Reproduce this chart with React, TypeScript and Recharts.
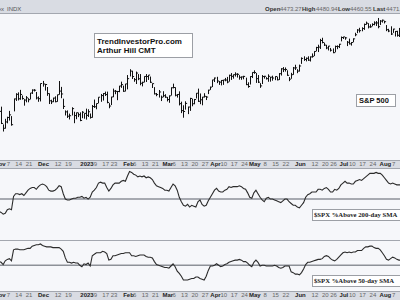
import { ComposedChart, Bar, Line, XAxis, YAxis, ReferenceLine } from "recharts";

// trading days from 1 Nov 2022 to 11 Aug 2023, index 0..194
const HIGH = [
  3911, 3894, 3751, 3796, 3813, 3860, 3818, 3959, 4002, 4009,
  4029, 3984, 3954, 3979, 3962, 4004, 4033, 4035, 4012, 3976,
  4080, 4101, 4077, 4052, 4001, 3950, 3966, 3977, 3990, 4100,
  4053, 3958, 3864, 3864, 3838, 3889, 3853, 3846, 3846, 3848,
  3858, 3840, 3878, 3873, 3839, 3907, 3951, 3919, 3970, 3996,
  4003, 4015, 4015, 3922, 3973, 4039, 4028, 4020, 4061, 4095,
  4063, 4077, 4148, 4195, 4183, 4124, 4176, 4156, 4156, 4094,
  4138, 4156, 4148, 4136, 4081, 4051, 4004, 4028, 3983, 4018,
  3994, 3972, 3984, 4049, 4079, 4050, 3995, 4017, 3934, 3905,
  3937, 3894, 3965, 3958, 3956, 4003, 4039, 4000, 3972, 4002,
  3979, 4030, 4055, 4110, 4128, 4134, 4100, 4108, 4109, 4125,
  4133, 4151, 4164, 4152, 4170, 4163, 4147, 4137, 4142, 4127,
  4090, 4139, 4170, 4186, 4164, 4148, 4083, 4148, 4142, 4131,
  4154, 4133, 4143, 4138, 4135, 4164, 4203, 4212, 4209, 4186,
  4132, 4166, 4213, 4231, 4195, 4232, 4290, 4299, 4289, 4299,
  4298, 4322, 4340, 4375, 4392, 4439, 4448, 4408, 4391, 4382,
  4366, 4362, 4385, 4387, 4399, 4458, 4456, 4454, 4422, 4441,
  4413, 4443, 4488, 4517, 4528, 4532, 4562, 4578, 4565, 4556,
  4564, 4580, 4582, 4607, 4590, 4594, 4585, 4550, 4520, 4540,
  4520, 4502, 4504, 4527, 4476,
];
const LOW = [
  3843, 3758, 3698, 3721, 3764, 3786, 3745, 3860, 3944, 3948,
  3953, 3955, 3906, 3933, 3933, 3956, 4000, 4020, 3956, 3937,
  3940, 4059, 4027, 3985, 3919, 3919, 3934, 3933, 3937, 3994,
  3966, 3879, 3827, 3807, 3795, 3827, 3765, 3797, 3814, 3781,
  3805, 3801, 3794, 3815, 3802, 3809, 3888, 3877, 3925, 3937,
  3947, 3984, 3925, 3885, 3911, 3974, 3998, 3950, 4014, 4049,
  4017, 4020, 4037, 4141, 4120, 4098, 4080, 4111, 4070, 4061,
  4093, 4096, 4113, 4089, 4048, 3996, 3982, 3971, 3943, 3974,
  3969, 3940, 3929, 3987, 4045, 3981, 3971, 3908, 3846, 3809,
  3874, 3838, 3864, 3901, 3917, 3964, 3936, 3918, 3909, 3971,
  3951, 3999, 4033, 4056, 4096, 4087, 4073, 4069, 4073, 4102,
  4086, 4099, 4113, 4123, 4140, 4132, 4115, 4114, 4118, 4071,
  4050, 4076, 4128, 4162, 4089, 4088, 4049, 4080, 4123, 4116,
  4098, 4099, 4107, 4111, 4109, 4113, 4148, 4176, 4180, 4146,
  4103, 4122, 4154, 4193, 4167, 4180, 4242, 4266, 4262, 4266,
  4261, 4292, 4305, 4343, 4337, 4362, 4407, 4386, 4360, 4350,
  4341, 4328, 4335, 4360, 4369, 4423, 4442, 4436, 4385, 4398,
  4389, 4416, 4464, 4489, 4494, 4504, 4515, 4557, 4527, 4532,
  4544, 4552, 4547, 4528, 4555, 4574, 4567, 4505, 4497, 4474,
  4491, 4462, 4461, 4458, 4444,
];
const CLOSE = [
  3856, 3759, 3720, 3771, 3807, 3828, 3749, 3956, 3993, 3957,
  3992, 3959, 3947, 3965, 3950, 4004, 4027, 4026, 3964, 3958,
  4080, 4076, 4072, 3999, 3941, 3933, 3963, 3934, 3990, 4019,
  3996, 3896, 3852, 3817, 3821, 3878, 3822, 3845, 3829, 3783,
  3849, 3840, 3824, 3853, 3808, 3895, 3893, 3919, 3970, 3983,
  3999, 3991, 3928, 3899, 3972, 4019, 4017, 4016, 4060, 4071,
  4018, 4077, 4119, 4180, 4136, 4111, 4164, 4118, 4082, 4090,
  4137, 4136, 4148, 4090, 4079, 3997, 3991, 4012, 3970, 3982,
  3970, 3951, 3981, 4046, 4048, 3986, 3992, 3918, 3862, 3855,
  3920, 3891, 3960, 3917, 3951, 4002, 3937, 3949, 3971, 3977,
  3971, 4027, 4051, 4109, 4124, 4100, 4091, 4105, 4109, 4108,
  4092, 4146, 4138, 4151, 4155, 4154, 4130, 4133, 4137, 4071,
  4056, 4136, 4169, 4168, 4119, 4091, 4061, 4136, 4138, 4119,
  4138, 4131, 4124, 4136, 4110, 4159, 4198, 4192, 4193, 4146,
  4115, 4151, 4205, 4206, 4180, 4221, 4282, 4273, 4283, 4268,
  4294, 4299, 4338, 4369, 4373, 4426, 4410, 4389, 4366, 4381,
  4348, 4328, 4378, 4377, 4396, 4450, 4455, 4447, 4412, 4399,
  4410, 4439, 4472, 4510, 4505, 4522, 4555, 4565, 4535, 4536,
  4555, 4567, 4567, 4537, 4582, 4589, 4577, 4513, 4502, 4478,
  4518, 4499, 4468, 4469, 4464,
];
// $SPX %Above 200-day SMA
const ABOVE_200 = [
  36, 35, 33, 34, 38, 39, 38, 53, 56, 56,
  55, 56, 54, 57, 60, 62, 63, 63, 61, 64,
  66, 67, 66, 64, 60, 59, 59, 60, 62, 65,
  64, 56, 50, 49, 49, 50, 51, 51, 52, 52,
  53, 51, 52, 50, 52, 58, 60, 63, 68, 69,
  68, 68, 63, 59, 62, 66, 68, 68, 68, 70,
  71, 70, 76, 81, 80, 78, 77, 75, 76, 75,
  76, 74, 75, 74, 72, 68, 65, 64, 63, 62,
  60, 60, 59, 63, 67, 65, 60, 52, 47, 43,
  42, 44, 41, 43, 42, 41, 47, 49, 44, 42,
  43, 48, 52, 56, 60, 62, 59, 58, 58, 60,
  61, 64, 63, 64, 64, 64, 65, 64, 62, 61,
  57, 52, 51, 57, 60, 56, 52, 49, 47, 51,
  52, 50, 50, 49, 48, 47, 46, 48, 50, 50,
  47, 45, 43, 43, 41, 40, 43, 46, 52, 55,
  56, 58, 58, 58, 61, 61, 60, 62, 63, 61,
  58, 58, 61, 60, 62, 66, 68, 70, 68, 68,
  67, 67, 70, 71, 72, 71, 73, 75, 77, 79,
  79, 79, 80, 79, 79, 77, 74, 71, 68, 67,
  68, 67, 66, 66, 66,
];
// $SPX %Above 50-day SMA
const ABOVE_50 = [
  55, 54, 51, 56, 58, 59, 56, 71, 72, 72,
  71, 71, 71, 72, 73, 73, 76, 77, 78, 78,
  79, 77, 76, 75, 75, 75, 74, 74, 74, 74,
  72, 69, 60, 54, 54, 53, 54, 53, 53, 50,
  48, 52, 51, 53, 49, 63, 65, 67, 67, 67,
  69, 68, 66, 57, 58, 63, 63, 64, 65, 66,
  66, 67, 67, 67, 63, 63, 62, 63, 64, 64,
  64, 62, 61, 61, 60, 55, 51, 50, 49, 48,
  47, 47, 46, 49, 52, 48, 42, 39, 35, 30,
  30, 30, 31, 32, 32, 34, 34, 32, 31, 30,
  35, 43, 49, 49, 50, 52, 50, 48, 49, 51,
  52, 54, 55, 56, 57, 57, 58, 57, 55, 55,
  53, 50, 48, 54, 57, 54, 49, 50, 50, 49,
  49, 49, 49, 50, 49, 47, 46, 47, 49, 49,
  49, 41, 40, 38, 38, 37, 40, 45, 51, 54,
  54, 55, 56, 57, 58, 58, 59, 62, 63, 62,
  59, 57, 56, 58, 61, 64, 67, 68, 67, 68,
  67, 68, 68, 70, 70, 70, 73, 75, 75, 76,
  76, 74, 73, 73, 71, 67, 63, 58, 57, 59,
  61, 60, 58, 57, 57,
];

const TICK_DAYS = [0, 4, 9, 14, 21, 28, 33, 42, 46, 51, 55, 62, 65, 70, 75, 81, 84, 89, 94, 99, 104, 108, 113, 118, 123, 128, 133, 138, 145, 152, 157, 161, 166, 170, 175, 180, 186, 190];
const TICK_LABELS = ["Nov", "7", "14", "21", "Dec", "12", "19", "2023", "9", "17", "23", "Feb", "6", "13", "21", "Mar", "6", "13", "20", "27", "Apr", "10", "17", "24", "May", "8", "15", "22", "Jun", "12", "20", "26", "Jul", "10", "17", "24", "Aug", "7"];
const MONTHS = ["Nov", "Dec", "2023", "Feb", "Mar", "Apr", "May", "Jun", "Jul", "Aug"];

const data = CLOSE.map((c, i) => ({
  i,
  close: c,
  range: [LOW[i], HIGH[i]],
  a200: ABOVE_200[i],
  a50: ABOVE_50[i],
}));

const SANS = "'Liberation Sans', Arial, sans-serif";
const SERIF = "'Liberation Serif', 'Times New Roman', serif";
const STRIP = "#d9dce3";
const EDGE = "#a3a7af";
const X_DOMAIN: [number, number] = [-0.5, 194.5];

const HlcBar = (props: any) => {
  const { x, y, width, height, payload } = props;
  if (!payload) return null;
  const cx = Math.round(x + width / 2) + 0.5;
  const top = Math.min(y, y + height);
  const h = Math.abs(height);
  const [lo, hi] = payload.range;
  const cy = top + ((hi - payload.close) / (hi - lo || 1)) * h;
  return (
    <g>
      <line x1={cx} x2={cx} y1={top} y2={top + h + 0.5} stroke="#111" strokeWidth={1} />
      <line x1={cx} x2={cx + 1.6} y1={cy} y2={cy} stroke="#111" strokeWidth={1} />
    </g>
  );
};

const DateTick = (props: any) => {
  const { x, y, payload } = props;
  const k = TICK_DAYS.indexOf(payload.value);
  const label = TICK_LABELS[k];
  const bold = MONTHS.includes(label);
  return (
    <text
      x={x + 1}
      y={y + 5.5}
      textAnchor="middle"
      fontSize={6}
      fontFamily={SANS}
      fontWeight={bold ? 700 : 400}
      fill={bold ? "#222" : "#666"}
    >
      {label}
    </text>
  );
};

const Box = ({ x, y, w, h }: any) => (
  <g>
    <rect x={x + 1} y={y + 1} width={w} height={h} fill="#c9cbd0" />
    <rect x={x + 0.5} y={y + 0.5} width={w} height={h} fill="#fff" stroke="#9c9fa5" />
  </g>
);

const App = () => {
  return (
    <div style={{ position: "absolute", left: 0, top: 0, width: 400, height: 300, overflow: "hidden", background: "#f6f7fa" }}>
      {/* header + axis strips */}
      <div style={{ position: "absolute", left: 0, top: 0, width: 400, height: 13, background: STRIP, borderBottom: `1px solid ${EDGE}` }} />
      <div style={{ position: "absolute", left: 0, top: 160, width: 400, height: 7, background: STRIP, borderTop: `1px solid ${EDGE}`, borderBottom: `1px solid ${EDGE}` }} />
      <div style={{ position: "absolute", left: 0, top: 240, width: 400, height: 1, background: EDGE }} />
      <div style={{ position: "absolute", left: 0, top: 291, width: 400, height: 9, background: STRIP, borderTop: `1px solid ${EDGE}` }} />

      {/* S&P 500 price bars */}
      <div style={{ position: "absolute", left: -2, top: 14 }}>
        <ComposedChart width={404} height={154} data={data} margin={{ top: 0, right: 0, bottom: 0, left: 0 }}>
          <XAxis
            type="number"
            dataKey="i"
            domain={X_DOMAIN}
            allowDataOverflow
            ticks={TICK_DAYS}
            interval={0}
            height={8}
            axisLine={false}
            tickLine={false}
            tickSize={0}
            tickMargin={0}
            tick={(p: any) => <DateTick {...p} />}
          />
          <YAxis hide domain={[3465, 4639]} allowDataOverflow />
          <Bar dataKey="range" barSize={2} shape={HlcBar} isAnimationActive={false} />
        </ComposedChart>
      </div>

      {/* %Above 200-day SMA */}
      <div style={{ position: "absolute", left: -2, top: 168 }}>
        <ComposedChart width={404} height={71} data={data} margin={{ top: 0, right: 0, bottom: 0, left: 0 }}>
          <XAxis hide type="number" dataKey="i" domain={X_DOMAIN} allowDataOverflow />
          <YAxis hide domain={[5, 85]} allowDataOverflow />
          <ReferenceLine y={50} stroke="#8d9198" strokeWidth={1.5} />
          <Line dataKey="a200" stroke="#2b2b2b" strokeWidth={1.1} dot={false} isAnimationActive={false} />
        </ComposedChart>
      </div>

      {/* %Above 50-day SMA */}
      <div style={{ position: "absolute", left: -2, top: 241 }}>
        <ComposedChart width={404} height={59} data={data} margin={{ top: 0, right: 0, bottom: 0, left: 0 }}>
          <XAxis
            type="number"
            dataKey="i"
            domain={X_DOMAIN}
            allowDataOverflow
            ticks={TICK_DAYS}
            interval={0}
            height={9}
            axisLine={false}
            tickLine={false}
            tickSize={0}
            tickMargin={0}
            tick={(p: any) => <DateTick {...p} />}
          />
          <YAxis hide domain={[15, 83]} allowDataOverflow />
          <ReferenceLine y={50} stroke="#8d9198" strokeWidth={1.5} />
          <Line dataKey="a50" stroke="#2b2b2b" strokeWidth={1.1} dot={false} isAnimationActive={false} />
        </ComposedChart>
      </div>

      {/* header text and notes */}
      <svg width={400} height={300} style={{ position: "absolute", left: 0, top: 0, pointerEvents: "none" }}>
        <text x={4} y={11} textAnchor="end" fontSize={6} fontFamily={SANS} fill="#555">S&amp;P 500 Large Cap Index</text>
        <text x={7} y={11} fontSize={6} fontFamily={SANS} fill="#555">INDX</text>
        <g fontSize={6} fontFamily={SANS}>
          <text x={265} y={11} fontWeight={700} fill="#333">Open</text>
          <text x={280} y={11} fill="#666">4473.27</text>
          <text x={302} y={11} fontWeight={700} fill="#333">High</text>
          <text x={316} y={11} fill="#666">4480.94</text>
          <text x={338} y={11} fontWeight={700} fill="#333">Low</text>
          <text x={350} y={11} fill="#666">4460.55</text>
          <text x={373} y={11} fontWeight={700} fill="#333">Last</text>
          <text x={386} y={11} fill="#666">4471.27</text>
        </g>

        <Box x={94} y={33} w={98} h={24} />
        <text x={97} y={43.5} fontSize={8} fontWeight={700} fontFamily={SANS} fill="#111">TrendInvestorPro.com</text>
        <text x={97} y={52.5} fontSize={8} fontWeight={700} fontFamily={SANS} fill="#111">Arthur Hill CMT</text>

        <Box x={356} y={94} w={39} h={12} />
        <text x={359} y={103.3} fontSize={7.5} fontWeight={700} fontFamily={SANS} fill="#111">S&amp;P 500</text>

        <Box x={312} y={209} w={92} h={11} />
        <text x={314} y={217} fontSize={6.7} fontWeight={700} fontFamily={SERIF} fill="#222">$SPX %Above 200-day SMA</text>

        <Box x={312} y={275} w={92} h={11} />
        <text x={314} y={283} fontSize={6.7} fontWeight={700} fontFamily={SERIF} fill="#222">$SPX %Above 50-day SMA</text>
      </svg>
    </div>
  );
};

export default App;
